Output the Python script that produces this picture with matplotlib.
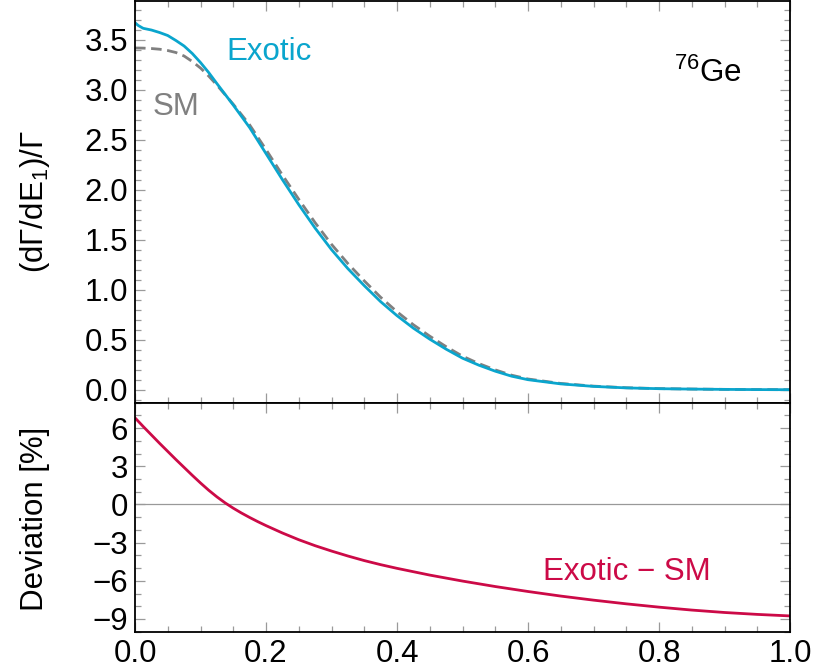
import numpy as np
import matplotlib
matplotlib.use("Agg")
import matplotlib.pyplot as plt
from matplotlib.ticker import MultipleLocator

plt.rcParams['font.family'] = ['Liberation Sans', 'DejaVu Sans']
plt.rcParams['mathtext.fontset'] = 'custom'
plt.rcParams['mathtext.rm'] = 'Liberation Sans'
plt.rcParams['mathtext.default'] = 'regular'

# ---- data ----
x_top = [0.0, 0.005, 0.0125, 0.025, 0.0375, 0.05, 0.0625, 0.075, 0.0875, 0.1, 0.1125,
         0.125, 0.15, 0.175, 0.2, 0.225, 0.25, 0.275, 0.3, 0.325, 0.35, 0.375, 0.4,
         0.425, 0.45, 0.475, 0.5, 0.525, 0.55, 0.575, 0.6, 0.65, 0.7, 0.75, 0.8,
         0.85, 0.9, 0.95, 1.0]
exotic = [3.668, 3.64, 3.612, 3.595, 3.57, 3.54, 3.49, 3.435, 3.36, 3.27, 3.17,
          3.06, 2.845, 2.62, 2.36, 2.10, 1.85, 1.615, 1.40, 1.21, 1.04, 0.88, 0.74,
          0.615, 0.505, 0.405, 0.315, 0.245, 0.185, 0.135, 0.10, 0.058, 0.033, 0.018, 0.010,
          0.006, 0.003, 0.001, 0.0]
sm = [3.415, 3.415, 3.414, 3.41, 3.403, 3.39, 3.37, 3.335, 3.28, 3.215, 3.135,
      3.045, 2.853, 2.647, 2.40, 2.146, 1.903, 1.669, 1.453, 1.261, 1.088, 0.924, 0.779,
      0.649, 0.535, 0.430, 0.335, 0.261, 0.198, 0.145, 0.107, 0.0625, 0.0357, 0.0195, 0.0108,
      0.0065, 0.0033, 0.0011, 0.0]

x_dev = [0.0, 0.0125, 0.025, 0.0375, 0.05, 0.0625, 0.075, 0.0875, 0.1, 0.1125, 0.125,
         0.1375, 0.15, 0.1625, 0.175, 0.1875, 0.2, 0.225, 0.25, 0.275, 0.3, 0.325, 0.35,
         0.375, 0.4, 0.45, 0.5, 0.55, 0.6, 0.65, 0.7, 0.75, 0.8, 0.85, 0.9, 0.95, 1.0]
deviation = [6.81, 6.13, 5.47, 4.81, 4.17, 3.53, 2.91, 2.29, 1.69, 1.12, 0.60,
             0.13, -0.29, -0.67, -1.02, -1.35, -1.66, -2.24, -2.77, -3.24, -3.66, -4.05, -4.41,
             -4.73, -5.02, -5.55, -6.02, -6.45, -6.84, -7.20, -7.52, -7.81, -8.07, -8.30, -8.49,
             -8.64, -8.76]

xticks = [0.0, 0.2, 0.4, 0.6, 0.8, 1.0]
xticklabels = ['0.0', '0.2', '0.4', '0.6', '0.8', '1.0']

c_exotic = '#0AA5CD'
c_sm = '#808080'
c_dev = '#CC0A47'
FS = 22.5

W, H = 830, 672
fig = plt.figure(figsize=(W / 100, H / 100), dpi=100)
L, R = 135 / W, 790 / W
top_y, mid_y, bot_y = 1 / H, 402.7 / H, 631.7 / H
ax1 = fig.add_axes([L, 1 - mid_y, R - L, mid_y - top_y])
ax2 = fig.add_axes([L, 1 - bot_y, R - L, bot_y - mid_y], sharex=ax1)

ax1.plot(x_top, sm, color=c_sm, lw=2.0, dashes=(3.8, 2.0))
ax1.plot(x_top, exotic, color=c_exotic, lw=2.0)
ax2.axhline(0, color='#999999', lw=0.9)
ax2.plot(x_dev, deviation, color=c_dev, lw=2.0)

ax1.set_xlim(0, 1)
ax1.set_ylim(-0.13, 3.885)
ax2.set_ylim(-10, 8)

ax1.set_yticks([0.0, 0.5, 1.0, 1.5, 2.0, 2.5, 3.0, 3.5])
ax1.set_yticklabels(['0.0', '0.5', '1.0', '1.5', '2.0', '2.5', '3.0', '3.5'])
ax1.yaxis.set_minor_locator(MultipleLocator(0.1))
ax2.set_yticks([-9, -6, -3, 0, 3, 6])
ax2.yaxis.set_minor_locator(MultipleLocator(1))
ax2.set_xticks(xticks)
ax2.set_xticklabels(xticklabels)
ax2.xaxis.set_minor_locator(MultipleLocator(0.05))
plt.setp(ax1.get_xticklabels(), visible=False)

for ax in (ax1, ax2):
    ax.tick_params(which='both', direction='in', top=True, right=True,
                   color='#9a9a9a', width=0.9, labelsize=FS, pad=5)
    ax.tick_params(which='major', length=7.5)
    ax.tick_params(which='minor', length=4.5)
    for s in ax.spines.values():
        s.set_linewidth(1.3)
        s.set_color('black')

ax1.text(0.139, 3.295, 'Exotic', color=c_exotic, fontsize=FS, ha='left', va='baseline')
ax1.text(0.0264, 2.745, 'SM', color=c_sm, fontsize=FS, ha='left', va='baseline')
ax1.text(0.823, 3.078, '$^{76}$Ge', color='black', fontsize=FS, ha='left', va='baseline')
ax2.text(0.623, -5.95, 'Exotic \u2212 SM', color=c_dev, fontsize=FS, ha='left', va='baseline')

fig.text(35 / W, 1 - 202 / H, '(d\u0393/dE$_1$)/\u0393', rotation=90, fontsize=FS,
         ha='center', va='center')
fig.text(35 / W, 1 - 519 / H, 'Deviation [%]', rotation=90, fontsize=FS,
         ha='center', va='center')

fig.savefig('out.png', dpi=100)
